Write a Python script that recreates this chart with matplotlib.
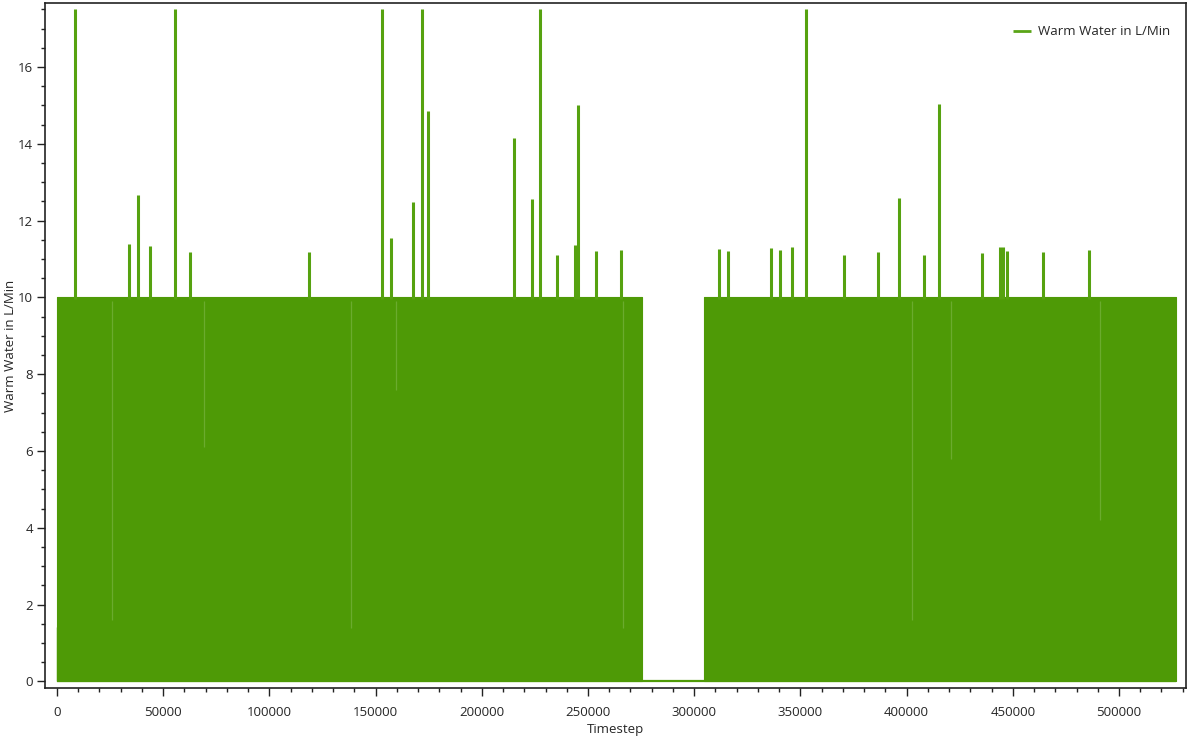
import matplotlib
matplotlib.use("Agg")
import matplotlib.pyplot as plt
from matplotlib.ticker import MultipleLocator

# ---- data ----
series_label = "Warm Water in L/Min"
# periods where the flow toggles continuously between 0 and the base level
active_start = [0, 304750]
active_end = [275280, 527040]
base_level = 10.0
# isolated peaks above the base level (timestep, L/min)
spike_t = [8470, 33760, 37990, 43780, 55700, 62480, 118640, 153150, 157390,
           167750, 171840, 174810, 215020, 223770, 227260, 235260, 243870,
           245290, 253900, 265530, 311670, 315910, 336150, 340390, 346040,
           352630, 370660, 386380, 396550, 408040, 415390, 435350, 443960,
           445380, 447120, 464350, 485870]
spike_v = [17.5, 11.39, 12.66, 11.35, 17.5, 11.17, 11.18, 17.5, 11.54,
           12.48, 17.5, 14.86, 14.16, 12.56, 17.5, 11.11, 11.36,
           15.0, 11.22, 11.23, 11.25, 11.21, 11.29, 11.24, 11.32,
           17.5, 11.11, 11.19, 12.58, 11.10, 15.05, 11.16, 11.31,
           11.31, 11.21, 11.19, 11.23]
# spots where the flow stayed high, leaving a lighter streak (timestep, lowest value)
hold_t = [25890, 69210, 138420, 159600, 266470, 402530, 420900, 491040]
hold_low = [1.6, 6.1, 1.4, 7.6, 1.4, 1.6, 5.8, 4.2]
first_value = 1.42
year_end = 527040

green = "#4e9a06"
spike_green = "#56a210"
streak_green = "#7fb84a"
text_col = "#262626"

plt.rcParams['font.family'] = ['Open Sans', 'DejaVu Sans']

fig = plt.figure(figsize=(11.88, 7.38), dpi=100)
ax = fig.add_axes([45/1188, 1-688.3/738, (1185.5-45)/1188, (688.3-3.3)/738])

# zero line over the whole year
ax.plot([0, year_end], [0, 0], color=green, lw=1.6, solid_capstyle='butt',
        label=series_label, zorder=2)
# dense on/off region
for s, e in zip(active_start, active_end):
    ax.fill_between([s, e], [0, 0], [base_level, base_level], color=green,
                    lw=0.8, edgecolor=green, zorder=2)
ax.vlines([0], 0, first_value, color=green, lw=1.0, zorder=2)
ax.vlines(hold_t, hold_low, base_level - 0.1, color=streak_green, lw=0.9,
          alpha=0.6, zorder=2.5)
# peaks
ax.vlines(spike_t, base_level - 0.05, spike_v, color=spike_green, lw=2.2,
          zorder=3)

ax.set_xlim(-5650, 531300)
ax.set_ylim(-0.18, 17.66)

ax.xaxis.set_major_locator(MultipleLocator(50000))
ax.xaxis.set_minor_locator(MultipleLocator(10000))
ax.yaxis.set_major_locator(MultipleLocator(2))
ax.yaxis.set_minor_locator(MultipleLocator(0.5))
ax.tick_params(which='major', direction='out', length=5.5, width=1.0,
               colors='#222222', labelcolor=text_col, labelsize=9.5)
ax.tick_params(which='minor', direction='out', length=3.0, width=1.0,
               colors='#222222')
ax.tick_params(axis='x', which='major', pad=7)
ax.tick_params(axis='y', which='major', pad=3)
for sp in ax.spines.values():
    sp.set_linewidth(1.2)
    sp.set_color('#222222')

ax.set_xlabel("Timestep", fontsize=9.5, color=text_col, labelpad=3)
ax.set_ylabel(series_label, fontsize=9.5, color=text_col, labelpad=1)

leg = ax.legend(loc='upper right', frameon=False, fontsize=9.5,
                handlelength=1.4, handletextpad=0.5,
                bbox_to_anchor=(0.997, 0.985))
for h in leg.legend_handles:
    h.set_linewidth(2.0)
    h.set_color('#5aa517')
for t in leg.get_texts():
    t.set_color(text_col)

fig.savefig("out.png", dpi=100)
